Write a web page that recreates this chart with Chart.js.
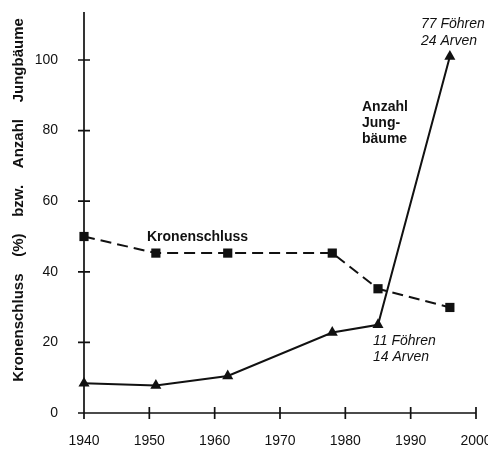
<!DOCTYPE html>
<html>
<head>
<meta charset="utf-8">
<script src="https://cdn.jsdelivr.net/npm/chart.js@4.4.1/dist/chart.umd.min.js"></script>
<style>
  html, body { margin: 0; padding: 0; background: #fff; }
  #wrap { width: 488px; height: 452px; position: relative; }
</style>
</head>
<body>
<div id="wrap"><canvas id="chart"></canvas></div>
<script>
// values
const years = [1940, 1951, 1962, 1978, 1985, 1996];
const kronenschluss = [50, 45.3, 45.3, 45.3, 35.2, 29.9];
const jungbaeume = [8.4, 7.8, 10.5, 22.8, 25, 101];
const xTicks = [1940, 1950, 1960, 1970, 1980, 1990, 2000];
const yTicks = [0, 20, 40, 60, 80, 100];

const FONT = "'Liberation Sans', Arial, sans-serif";
const INK = "#111";

// axis lines with ticks crossing them, plus the text notes
const axesAndNotes = {
    id: "axesAndNotes",
    afterDraw(chart) {
        const { ctx, chartArea: a, scales: { x, y } } = chart;
        ctx.save();
        ctx.strokeStyle = INK;
        ctx.lineWidth = 1.7;
        ctx.beginPath();
        ctx.moveTo(a.left, a.bottom);
        ctx.lineTo(a.left, a.top);
        ctx.moveTo(a.left - 6, a.bottom);
        ctx.lineTo(a.right, a.bottom);
        yTicks.forEach((v) => {
            const py = y.getPixelForValue(v);
            ctx.moveTo(a.left - 6, py);
            ctx.lineTo(a.left + 6, py);
        });
        xTicks.forEach((v) => {
            const px = x.getPixelForValue(v);
            ctx.moveTo(px, a.bottom - 6);
            ctx.lineTo(px, a.bottom + 6);
        });
        ctx.stroke();

        ctx.fillStyle = INK;
        ctx.textBaseline = "middle";
        ctx.textAlign = "left";
        ctx.font = "bold 14px " + FONT;
        ctx.fillText("Kronenschluss", 147, 237);
        ctx.fillText("Anzahl", 362, 107);
        ctx.fillText("Jung-", 362, 123);
        ctx.fillText("bäume", 362, 139);
        ctx.font = "italic 14px " + FONT;
        ctx.fillText("77 Föhren", 421, 24);
        ctx.fillText("24 Arven", 421, 41);
        ctx.fillText("11 Föhren", 373, 341);
        ctx.fillText("14 Arven", 373, 357);

        // rotated y title
        ctx.translate(19, 200);
        ctx.rotate(-Math.PI / 2);
        ctx.textAlign = "center";
        ctx.font = "bold 15px " + FONT;
        ctx.fillText("Kronenschluss    (%)    bzw.    Anzahl    Jungbäume", 0, 0);
        ctx.restore();
    },
};

new Chart(document.getElementById("chart"), {
    type: "line",
    data: {
        datasets: [
            {
                label: "Kronenschluss",
                data: years.map((yr, i) => ({ x: yr, y: kronenschluss[i] })),
                borderColor: INK,
                backgroundColor: INK,
                borderWidth: 2,
                borderDash: [11, 6],
                pointStyle: "rect",
                pointRadius: 6.5,
                pointBorderWidth: 0,
                tension: 0,
                clip: false,
            },
            {
                label: "Anzahl Jungbäume",
                data: years.map((yr, i) => ({ x: yr, y: jungbaeume[i] })),
                borderColor: INK,
                backgroundColor: INK,
                borderWidth: 2,
                pointStyle: "triangle",
                pointRadius: 6.4,
                pointBorderWidth: 0,
                tension: 0,
                clip: false,
            },
        ],
    },
    options: {
        responsive: true,
        maintainAspectRatio: false,
        animation: false,
        layout: { padding: { left: 0, right: 12, top: 12, bottom: 0 } },
        plugins: {
            legend: { display: false },
            tooltip: { enabled: false },
        },
        scales: {
            x: {
                type: "linear",
                min: 1940,
                max: 2000,
                grid: { display: false, drawTicks: false },
                border: { display: false },
                afterBuildTicks: (s) => { s.ticks = xTicks.map((v) => ({ value: v })); },
                afterFit: (s) => { s.height = 39; s.paddingLeft = 0; s.paddingRight = 0; },
                ticks: {
                    padding: 20,
                    color: INK,
                    maxRotation: 0,
                    font: { family: FONT, size: 14 },
                    callback: (v) => String(v),
                },
            },
            y: {
                min: 0,
                max: 113.6,
                grid: { display: false, drawTicks: false },
                border: { display: false },
                afterBuildTicks: (s) => { s.ticks = yTicks.map((v) => ({ value: v })); },
                afterFit: (s) => { s.width = 84; s.paddingTop = 0; s.paddingBottom = 0; },
                ticks: {
                    padding: 26,
                    color: INK,
                    font: { family: FONT, size: 14 },
                },
            },
        },
    },
    plugins: [axesAndNotes],
});
</script>
</body>
</html>
